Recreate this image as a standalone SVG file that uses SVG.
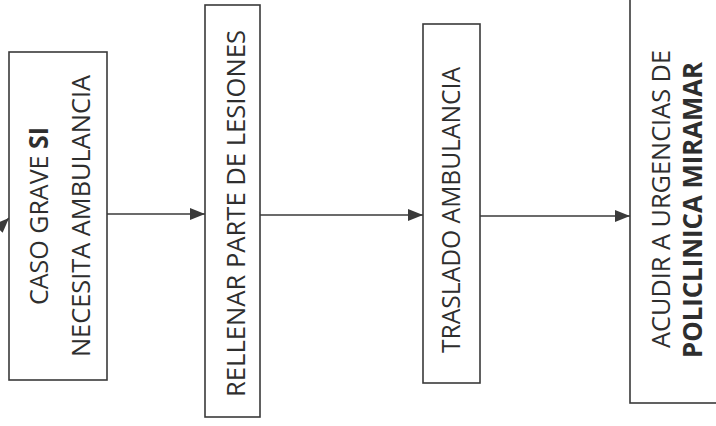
<svg xmlns="http://www.w3.org/2000/svg" width="716" height="426" viewBox="0 0 716 426">
<style>
.box{fill:#fff;stroke:#3a3a3a;stroke-width:1.6}
.lbl{font-family:"Open Sans","Liberation Sans",sans-serif;font-size:26px;fill:#2e2e2e;text-anchor:middle}
.b{font-weight:bold}
.con{stroke:#3a3a3a;stroke-width:1.6;fill:none;marker-end:url(#ah)}
</style>
<defs>
<marker id="ah" markerWidth="16" markerHeight="12" refX="15" refY="6" orient="auto" markerUnits="userSpaceOnUse">
<path d="M0,0 L15,6 L0,12 Z" fill="#3a3a3a"/>
</marker>
</defs>
<rect width="716" height="426" fill="#fff"/>
<g id="connectors">
<path class="con" d="M-6,233 L9,218"/>
<path class="con" d="M107,214 L205,214"/>
<path class="con" d="M260,215 L423,215"/>
<path class="con" d="M480,216 L630,216"/>
</g>
<g id="n1">
<rect class="box" x="9" y="52" width="98" height="328"/>
<text class="lbl" transform="translate(48,216) rotate(-90)" textLength="178" lengthAdjust="spacingAndGlyphs">CASO GRAVE <tspan class="b">SI</tspan></text>
<text class="lbl" transform="translate(90,216) rotate(-90)" textLength="282" lengthAdjust="spacingAndGlyphs">NECESITA AMBULANCIA</text>
</g>
<g id="n2">
<rect class="box" x="205" y="5" width="55" height="412"/>
<text class="lbl" transform="translate(245,213.5) rotate(-90)" textLength="367" lengthAdjust="spacingAndGlyphs">RELLENAR PARTE DE LESIONES</text>
</g>
<g id="n3">
<rect class="box" x="423" y="24" width="57" height="359"/>
<text class="lbl" transform="translate(460,210) rotate(-90)" textLength="286" lengthAdjust="spacingAndGlyphs">TRASLADO AMBULANCIA</text>
</g>
<g id="n4">
<rect class="box" x="630" y="-10" width="100" height="413"/>
<text class="lbl" transform="translate(670,199) rotate(-90)" textLength="298" lengthAdjust="spacingAndGlyphs">ACUDIR A URGENCIAS DE</text>
<text class="lbl b" transform="translate(702,210) rotate(-90)" textLength="296" lengthAdjust="spacingAndGlyphs">POLICLINICA MIRAMAR</text>
</g>
</svg>
